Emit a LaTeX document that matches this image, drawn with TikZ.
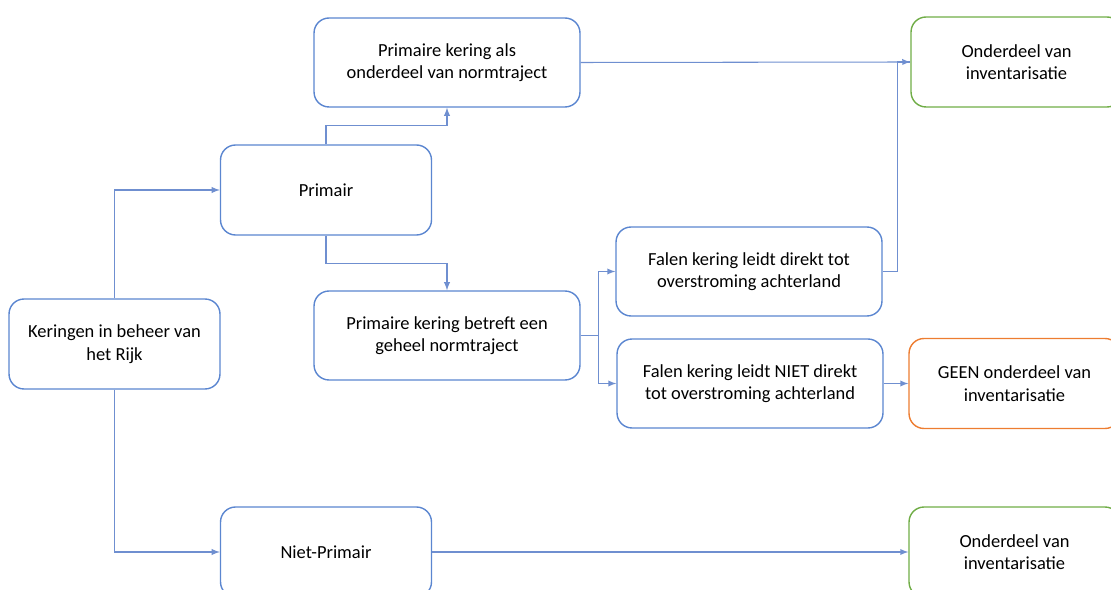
\documentclass[tikz,border=0pt]{standalone}
\usepackage{fontspec}
\setmainfont{Carlito}
\definecolor{blokblauw}{HTML}{5B86D0}
\definecolor{lijnblauw}{HTML}{6F8FD0}
\definecolor{groen}{HTML}{70AD47}
\definecolor{oranje}{HTML}{ED7D31}
\begin{document}
\begin{tikzpicture}[x=0.02cm,y=-0.02cm,>=latex,
  blok/.style={draw=blokblauw,line width=0.8pt,rounded corners=0.3cm,align=center,
    minimum width=4.22cm,minimum height=1.8cm,inner sep=2pt,
    font=\fontsize{10.5}{12.8}\selectfont},
  breed/.style={blok,minimum width=5.32cm,minimum height=1.78cm},
  lijn/.style={draw=lijnblauw,line width=0.6pt}]
  \path[use as bounding box,clip] (0,0) rectangle (1111,590);
  \node[blok] (kering) at (114.5,344) {Keringen in beheer van\\het Rijk};
  \node[blok] (primair) at (326,190) {Primair};
  \node[blok] (nietprim) at (326,552) {Niet-Primair};
  \node[breed] (normtraject) at (447,62.5) {Primaire kering als\\onderdeel van normtraject};
  \node[breed] (geheel) at (447,335.5) {Primaire kering betreft een\\geheel normtraject};
  \node[breed] (direkt) at (749,271.5) {Falen kering leidt direkt tot\\overstroming achterland};
  \node[breed] (nietdirekt) at (750,383.5) {Falen kering leidt NIET direkt\\tot overstroming achterland};
  \node[blok,draw=groen] (inv1) at (1016.5,62) {Onderdeel van\\inventarisatie};
  \node[blok,draw=oranje] (geen) at (1014.5,383.5) {GEEN onderdeel van\\inventarisatie};
  \node[blok,draw=groen] (inv2) at (1014.5,552) {Onderdeel van\\inventarisatie};
  % verbindingen
  \draw[lijn,->] (kering.north) |- (primair.west);
  \draw[lijn,->] (kering.south) |- (nietprim.west);
  \draw[lijn,->] (primair.north) -- ++(0,-19) -| (normtraject.south);
  \draw[lijn,->] (primair.south) -- ++(0,28) -| (geheel.north);
  \draw[lijn,->] (geheel.east) -- ++(18,0) |- (direkt.west);
  \draw[lijn,->] (geheel.east) -- ++(18,0) |- (nietdirekt.west);
  \draw[lijn,->] (normtraject.east) -- (inv1.west);
  \draw[lijn] (direkt.east) -- ++(15,0) |- (inv1.west);
  \draw[lijn,->] (nietdirekt.east) -- (geen.west);
  \draw[lijn,->] (nietprim.east) -- (inv2.west);
\end{tikzpicture}
\end{document}
